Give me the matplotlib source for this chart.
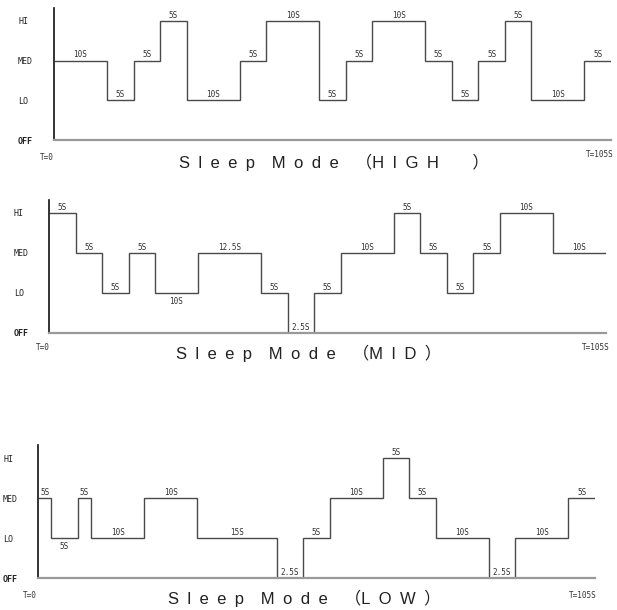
import matplotlib
matplotlib.use("Agg")
import matplotlib.pyplot as plt
import numpy as np

# niveaux
level_names = ["OFF", "LO", "MED", "HI"]

# HIGH mode: durées (s) et niveaux (0=OFF .. 3=HI)
high_widths = [10, 5, 5, 5, 10, 5, 10, 5, 5, 10, 5, 5, 5, 5, 10, 5]
high_levels = [2, 1, 2, 3, 1, 2, 3, 1, 2, 3, 2, 1, 2, 3, 1, 2]
high_labels = ["10S", "5S", "5S", "5S", "10S", "5S", "10S", "5S",
               "5S", "10S", "5S", "5S", "5S", "5S", "10S", "5S"]

# MID mode
mid_widths = [5, 5, 5, 5, 8, 12, 5, 5, 5, 10, 5, 5, 5, 5, 10, 10]
mid_levels = [3, 2, 1, 2, 1, 2, 1, 0, 1, 2, 3, 2, 1, 2, 3, 2]
mid_labels = ["5S", "5S", "5S", "5S", "10S", "12.5S", "5S", "2.5S",
              "5S", "10S", "5S", "5S", "5S", "5S", "10S", "10S"]

# LOW mode
low_widths = [2.5, 5, 2.5, 10, 10, 15, 5, 5, 10, 5, 5, 10, 5, 10, 5]
low_levels = [2, 1, 2, 1, 2, 1, 0, 1, 2, 3, 2, 1, 0, 1, 2]
low_labels = ["5S", "5S", "5S", "10S", "10S", "15S", "2.5S", "5S",
              "10S", "5S", "5S", "10S", "2.5S", "10S", "5S"]

W, H = 617, 610
fig = plt.figure(figsize=(W / 100, H / 100), dpi=100)

title_font = ["Liberation Sans", "DejaVu Sans", "Noto Sans CJK SC"]
sp = "\u2002"  # espace large entre les lettres


def spaced(s):
    return sp.join(s)


head = spaced("Sleep") + sp * 2 + spaced("Mode") + sp * 2

panels = [
    dict(w=high_widths, l=high_levels, t=high_labels, below=[],
         title=head + "（" + spaced("HIGH") + sp * 4 + "）",
         x0=54, x1=611, yoff=140, ytop=8, ylab=18,
         t0=(47, 158), tend=(600, 155), tt=(334, 162)),
    dict(w=mid_widths, l=mid_levels, t=mid_labels, below=[4],
         title=head + "（" + spaced("MID") + sp + "）",
         x0=49, x1=606, yoff=333, ytop=200, ylab=14,
         t0=(43, 348), tend=(596, 347), tt=(309, 353)),
    dict(w=low_widths, l=low_levels, t=low_labels, below=[1],
         title=head + "（" + spaced("LOW") + sp + "）",
         x0=38, x1=595, yoff=578, ytop=445, ylab=3,
         t0=(30, 595), tend=(583, 595), tt=(304, 598)),
]

for p in panels:
    ax = fig.add_axes([p["x0"] / W, 1 - p["yoff"] / H,
                       (p["x1"] - p["x0"]) / W, (p["yoff"] - p["ytop"]) / H])
    top = (p["yoff"] - p["ytop"]) / ((p["yoff"] - (p["ytop"] + 13)) / 3)
    ax.set_xlim(0, 105)
    ax.set_ylim(0, top)
    for s in ["top", "right"]:
        ax.spines[s].set_visible(False)
    ax.spines["left"].set_color("#111111")
    ax.spines["left"].set_linewidth(1.2)
    ax.spines["bottom"].set_color("#999999")
    ax.spines["bottom"].set_linewidth(1.6)
    ax.set_xticks([])
    ax.set_yticks(range(4), level_names)
    pad = (p["x0"] - p["ylab"]) / 100 * 72
    ax.tick_params(axis="y", length=0, pad=pad)
    for lab in ax.get_yticklabels():
        lab.set_ha("left")
        lab.set_fontfamily("DejaVu Sans Mono")
        lab.set_fontsize(6)
        lab.set_color("#222222")
        if lab.get_text() == "OFF":
            lab.set_fontweight("bold")
    ax.patch.set_visible(False)

    edges = np.concatenate([[0], np.cumsum(p["w"])])
    ax.stairs(p["l"], edges, baseline=None, color="#4a4a4a", linewidth=1.0)

    for i, txt in enumerate(p["t"]):
        xc = (edges[i] + edges[i + 1]) / 2
        if i in p["below"]:
            ax.annotate(txt, (xc, p["l"][i]), xytext=(0, -3), textcoords="offset points",
                        ha="center", va="top", fontsize=5.5,
                        family="DejaVu Sans Mono", color="#333333")
        else:
            ax.annotate(txt, (xc, p["l"][i]), xytext=(0, 1), textcoords="offset points",
                        ha="center", va="bottom", fontsize=5.5,
                        family="DejaVu Sans Mono", color="#333333")

    fig.text(p["t0"][0] / W, 1 - p["t0"][1] / H, "T=0", ha="center", va="center",
             fontsize=5.5, family="DejaVu Sans Mono", color="#333333")
    fig.text(p["tend"][0] / W, 1 - p["tend"][1] / H, "T=105S", ha="center", va="center",
             fontsize=5.5, family="DejaVu Sans Mono", color="#333333")
    fig.text(p["tt"][0] / W, 1 - p["tt"][1] / H, p["title"], ha="center", va="center",
             fontsize=12, family=title_font, color="#222222")

fig.savefig("out.png", dpi=100)
